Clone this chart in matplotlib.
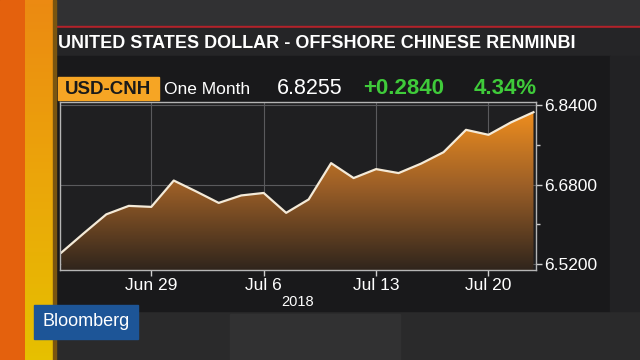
"""
USD-CNH one month chart, Bloomberg TV style
"""
import numpy as np
import matplotlib.pyplot as plt
from matplotlib.colors import LinearSegmentedColormap
from matplotlib.patches import Rectangle

# trading days, Jun 25 - Jul 24 2018
trade_days = ["Jun 25", "Jun 26", "Jun 27", "Jun 28", "Jun 29",
              "Jul 2", "Jul 3", "Jul 4", "Jul 5", "Jul 6",
              "Jul 9", "Jul 10", "Jul 11", "Jul 12", "Jul 13",
              "Jul 16", "Jul 17", "Jul 18", "Jul 19", "Jul 20",
              "Jul 23", "Jul 24"]
usd_cnh = [6.543, 6.582, 6.620, 6.637, 6.635,
           6.688, 6.666, 6.643, 6.658, 6.663,
           6.623, 6.650, 6.723, 6.693, 6.711,
           6.703, 6.722, 6.745, 6.790, 6.780,
           6.805, 6.8255]
tick_days = ["Jun 29", "Jul 6", "Jul 13", "Jul 20"]
y_major = [6.52, 6.68, 6.84]
y_minor = [6.60, 6.76]

title = "UNITED STATES DOLLAR - OFFSHORE CHINESE RENMINBI"
ticker = "USD-CNH"
period = "One Month"
last_px = "6.8255"
change = "+0.2840"
change_pct = "4.34%"

SANS = ["Liberation Sans", "DejaVu Sans"]
GREEN = "#3fcb3a"


def px(x, y):
    return x / 640, 1 - y / 360


def main():
    plt.rcParams['font.family'] = SANS
    fig = plt.figure(figsize=(6.4, 3.6), dpi=100)
    fig.patch.set_facecolor("#2d2d2f")

    # background decoration in pixel coords
    bg = fig.add_axes([0, 0, 1, 1], zorder=-5)
    bg.axis("off")
    bg.add_patch(Rectangle((0, 0), 640, 26, color="#313133"))
    bg.add_patch(Rectangle((55, 311), 585, 49, color="#2a2a2b"))
    bg.add_patch(Rectangle((230, 314), 170, 46, color="#313132"))
    bg.add_patch(Rectangle((55, 25.5), 585, 2.2, color="#b3222a"))
    bg.add_patch(Rectangle((55, 27.5), 585, 28.5, color="#252527"))
    bg.add_patch(Rectangle((55, 56), 555, 255, color="#19191b"))
    bg.add_patch(Rectangle((610, 56), 30, 255, color="#222224"))
    bg.add_patch(Rectangle((0, 0), 25, 360, color="#e4610d"))
    stripe = LinearSegmentedColormap.from_list("stripe", ["#ec8a12", "#eba60a", "#e6c000"])
    bg.imshow(np.linspace(0, 1, 100).reshape(-1, 1), cmap=stripe, aspect="auto",
              extent=[25, 53, 360, 0], origin="upper", zorder=1)
    bg.add_patch(Rectangle((53, 0), 3, 360, color="#7a5510", zorder=2))
    bg.set_xlim(0, 640)
    bg.set_ylim(360, 0)

    # header texts; title sized to span the same width as in the broadcast graphic
    t = fig.text(*px(58, 43), title, fontweight="bold", fontsize=16,
                 color="white", va="center", ha="left")
    renderer = fig.canvas.get_renderer()
    w = t.get_window_extent(renderer).width
    t.set_fontsize(16 * 518 / w)

    bg.add_patch(Rectangle((58, 77), 101, 23, color="#f6a524", zorder=3))
    fig.text(*px(108.5, 89), ticker, fontweight="bold", fontsize=13.5,
             color="#1a1a1a", va="center", ha="center")
    fig.text(*px(164, 90), period, fontsize=12.5, color="white", va="center", ha="left")
    fig.text(*px(277, 89), last_px, fontsize=15.5, color="white", va="center", ha="left")
    fig.text(*px(363, 89), change, fontsize=16, fontweight="bold", color=GREEN,
             va="center", ha="left")
    fig.text(*px(537, 89), change_pct, fontsize=16, fontweight="bold", color=GREEN,
             va="center", ha="right")

    # Bloomberg logo
    bg.add_patch(Rectangle((34, 305), 104, 34, color="#1d5597", zorder=3))
    fig.text(*px(86, 322), "Bloomberg", fontsize=13, color="white",
             va="center", ha="center")

    # main chart
    x = np.arange(len(usd_cnh))
    ax = fig.add_axes([60 / 640, 1 - 270 / 360, (535.7 - 60) / 640, (270 - 101.7) / 360])
    ax.set_facecolor("#1f1f21")
    ax.set_xlim(-0.06, 21.1)
    ax.set_ylim(6.508, 6.8466)
    ylo, yhi = ax.get_ylim()

    fill = ax.fill_between(x, usd_cnh, ylo, facecolor="none", edgecolor="none")
    grad = LinearSegmentedColormap.from_list("fill", ["#30251c", "#9c5f27", "#fa941d"])
    im = ax.imshow(np.linspace(0, 1, 256).reshape(-1, 1), cmap=grad, aspect="auto",
                   origin="lower", extent=[-0.06, 21.1, ylo, yhi], zorder=2)
    im.set_clip_path(fill.get_paths()[0], transform=ax.transData)
    ax.plot(x, usd_cnh, color="#f4ead8", linewidth=1.6, zorder=3)

    ax.set_xticks([trade_days.index(d) for d in tick_days])
    ax.set_xticklabels(tick_days)
    ax.set_yticks(y_major)
    ax.set_yticklabels([f"{v:.4f}" for v in y_major])
    ax.set_yticks(y_minor, minor=True)
    ax.yaxis.tick_right()
    ax.grid(True, which="major", color="#5a5a5d", linewidth=0.8, zorder=1)
    ax.set_axisbelow(True)
    for s in ax.spines.values():
        s.set_color("#b5b5b5")
        s.set_linewidth(1.0)
        s.set_zorder(4)
    ax.tick_params(axis="both", which="major", colors="#d0d0d0", labelcolor="white",
                   labelsize=12.5, length=4, width=1, pad=2)
    ax.tick_params(axis="y", which="minor", colors="#d0d0d0", length=3, width=1)
    ax.set_xlabel("2018", color="white", fontsize=10.5, labelpad=1)

    fig.savefig("out.png", dpi=100, facecolor=fig.get_facecolor())


if __name__ == "__main__":
    main()
